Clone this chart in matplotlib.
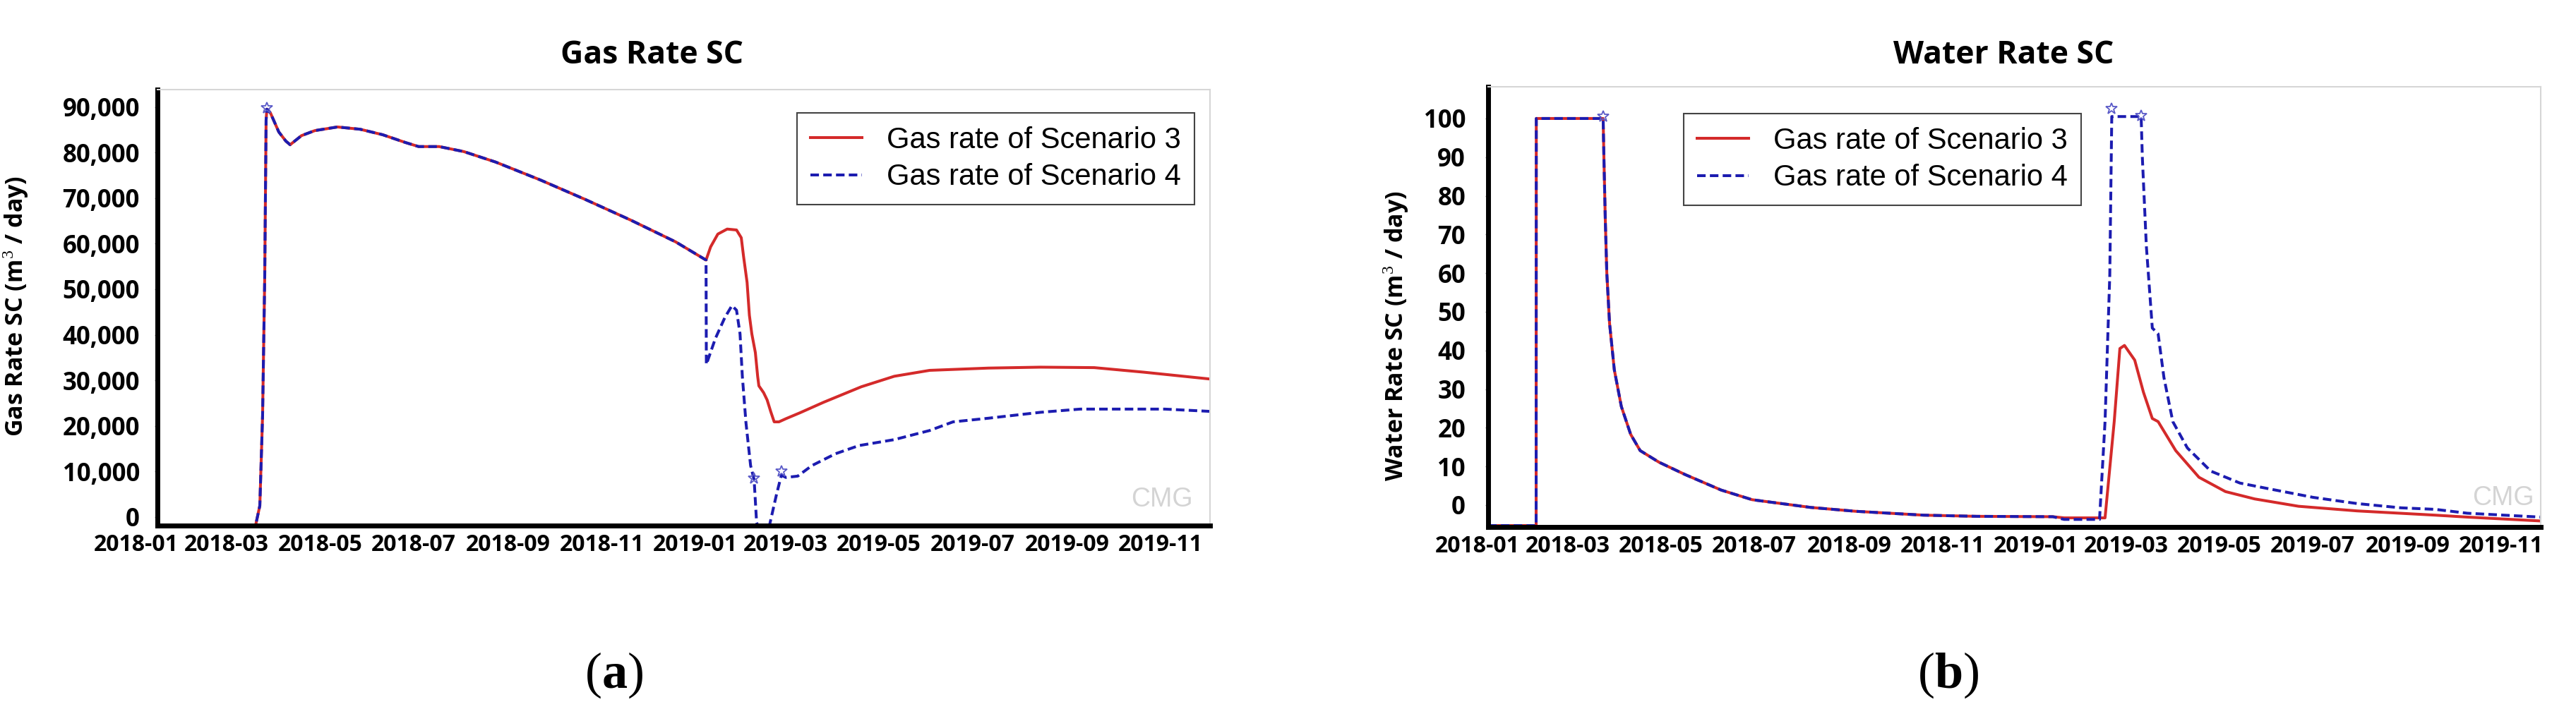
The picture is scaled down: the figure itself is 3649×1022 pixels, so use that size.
import numpy as np
import matplotlib.pyplot as plt
import matplotlib.dates as mdates
from matplotlib.ticker import FuncFormatter
from datetime import datetime

plt.rcParams['mathtext.fontset'] = 'custom'
plt.rcParams['mathtext.rm'] = 'Liberation Serif'
plt.rcParams['mathtext.bf'] = 'Liberation Serif:bold'

# x values are days counted from 2018-01-01
t0 = mdates.date2num(datetime(2018, 1, 1))

# ---- (a) gas rate SC, m3/day ----
# part shared by both scenarios
gas_day_common = [13.8, 77.9, 80.7, 82.5, 83.9, 84.8, 85.3, 87.6, 93.1, 97.7, 100.5,
                  107.9, 116.6, 131.4, 146.2, 160.9, 175.7, 184.4, 197.8, 213.9,
                  234.7, 263.7, 293.2, 322.7, 352.2, 372.1]
gas_common = [-1850, -1850, 2500, 22300, 52600, 87100, 89500, 88700, 84500, 82500, 81700,
              83700, 84800, 85600, 85100, 83900, 82200, 81300, 81300, 80200,
              77900, 74000, 69700, 65200, 60400, 56400]
gas_day_s3 = [375.1, 379.8, 385.9, 392.0, 395.1, 396.6, 398.9, 400.4, 402.0, 404.3,
              405.8, 406.6, 409.7, 412.0, 414.3, 416.6, 419.7, 424.3, 433.5, 448.9,
              473.5, 495.0, 518.1, 533.4, 556.5, 590.6, 625.6, 657.9, 701.2]
gas_s3 = [59300, 62100, 63200, 63000, 61300, 57200, 51500, 44300, 40200, 36100,
          30900, 28800, 27300, 25700, 23200, 20900, 20900, 21600, 22900, 25200,
          28600, 30900, 32200, 32400, 32700, 32900, 32800, 31800, 30300]
gas_day_s4 = [372.3, 378.2, 384.4, 389.0, 392.0, 394.3, 395.8, 398.2, 401.2, 403.5,
              405.1, 405.8, 413.5, 418.2, 421.3, 424.3, 432.0, 441.2, 456.6, 472.0,
              495.0, 518.1, 533.4, 556.5, 590.6, 616.4, 671.7, 701.2]
gas_s4 = [33500, 39200, 43800, 46400, 45400, 40200, 30900, 20600, 11300, 8200,
          -1100, -1850, -1850, 5100, 9200, 8700, 9000, 11300, 13900, 15700,
          17000, 19000, 20900, 21700, 23000, 23700, 23700, 23200]
gas_star_day = [85.3, 403.5, 421.3]
gas_star = [89800, 8500, 10000]

# ---- (b) water rate SC, m3/day ----
wat_day_common = [6.9, 38.3, 38.4, 82.1, 82.6, 83.5, 84.5, 86.3, 89.4, 94.0, 100.1,
                  106.3, 118.6, 135.7, 159.2, 179.5, 217.8, 247.3, 291.6, 326.3, 376.1]
wat_common = [-5.3, -5.3, 100, 100, 90, 74, 60, 47, 35, 25.5, 18.3,
              14.1, 11.1, 7.9, 3.9, 1.4, -0.6, -1.6, -2.6, -2.9, -3.0]
wat_day_s3 = [383.5, 410.2, 416.2, 419.9, 422.9, 429.6, 435.3, 441.1, 444.9, 456.4,
              471.6, 488.9, 508.0, 536.7, 575.0, 626.2, 647.0, 695.0]
wat_s3 = [-3.3, -3.3, 21.6, 40.5, 41.3, 37.5, 29.2, 22.4, 21.6, 14.1,
          7.2, 3.5, 1.6, -0.3, -1.5, -2.6, -3.1, -4.1]
wat_day_s4 = [383.5, 406.6, 410.2, 413.3, 414.6, 433.8, 434.6, 437.2, 441.1, 444.9,
              448.7, 454.5, 464.0, 479.3, 498.4, 517.6, 546.3, 575.0, 603.6, 626.2,
              647.0, 695.0]
wat_s4 = [-3.7, -3.7, 21.6, 59.5, 100.5, 100.5, 89.8, 67, 45.8, 44.3,
          33, 21.6, 14.8, 8.8, 5.7, 4.2, 2.0, 0.4, -0.7, -1.1,
          -2.1, -3.1]
wat_star_day = [82.1, 414.6, 434.0]
wat_star = [100.5, 102.5, 100.7]

labels = ['Gas rate of Scenario 3', 'Gas rate of Scenario 4']
red = '#d42a2a'
blue = '#1c1cb0'

W, H = 3649, 1022
fig = plt.figure(figsize=(W / 100, H / 100), dpi=100)

ax1 = fig.add_axes([193 / W, 1 - 745 / H, (1714 - 193) / W, (745 - 127) / H])
ax2 = fig.add_axes([2093 / W, 1 - 747 / H, (3599 - 2093) / W, (747 - 123) / H])


def draw(ax, dc, vc, d3, v3, d4, v4, sd, sv):
    x3 = t0 + np.array(dc + d3)
    y3 = np.array(vc + v3)
    x4 = t0 + np.array(dc + d4)
    y4 = np.array(vc + v4)
    ax.plot(x3, y3, color=red, lw=2.9, label=labels[0])
    ax.plot(x4, y4, color=blue, lw=2.9, ls=(0, (3.0, 1.5)), label=labels[1])
    ax.plot(t0 + np.array(sd), sv, ls='none', marker='*', ms=12, mfc='none',
            mec='#5a5ac8', mew=1.3)


draw(ax1, gas_day_common, gas_common, gas_day_s3, gas_s3, gas_day_s4, gas_s4,
     gas_star_day, gas_star)
draw(ax2, wat_day_common, wat_common, wat_day_s3, wat_s3, wat_day_s4, wat_s4,
     wat_star_day, wat_star)

ax1.set_xlim(t0, t0 + 701.2)
ax1.set_ylim(-1858, 93800)
ax1.set_yticks(range(0, 90001, 10000))
ax1.yaxis.set_major_formatter(FuncFormatter(lambda v, p: f'{v:,.0f}'))
ax2.set_xlim(t0, t0 + 695)
ax2.set_ylim(-5.66, 108.2)
ax2.set_yticks(range(0, 101, 10))

for ax, x0, xend, ypad in [(ax1, 13.8, 701.2, 15), (ax2, 6.9, 695, 20)]:
    ax.xaxis.set_major_locator(mdates.MonthLocator(bymonth=[1, 3, 5, 7, 9, 11]))
    ax.xaxis.set_major_formatter(mdates.DateFormatter('%Y-%m'))
    ax.spines['left'].set_position(('data', t0 + x0))
    ax.spines['left'].set_linewidth(5)
    ax.spines['bottom'].set_linewidth(5)
    ax.spines['bottom'].set_bounds(t0 + x0, t0 + xend)
    ax.spines['top'].set_bounds(t0 + x0, t0 + xend)
    for s in ['top', 'right']:
        ax.spines[s].set_color('#d6d6d6')
        ax.spines[s].set_linewidth(1.5)
    ax.tick_params(axis='x', length=0, pad=8)
    ax.tick_params(axis='y', length=3, width=1, color='#888888', pad=ypad)
    for lab in ax.get_xticklabels():
        lab.set_fontfamily('Open Sans')
        lab.set_fontweight('bold')
        lab.set_fontsize(23)
    for lab in ax.get_yticklabels():
        lab.set_fontfamily('Open Sans')
        lab.set_fontweight('bold')
        lab.set_fontsize(25)
    ax.patch.set_alpha(0)

ax1.set_ylabel('Gas Rate SC (m$^3$ / day)', fontsize=24.5, fontweight='bold', family='Open Sans')
ax1.yaxis.set_label_coords(-0.0986, 0.503)
ax2.set_ylabel('Water Rate SC (m$^3$ / day)', fontsize=24.5, fontweight='bold', family='Open Sans')
ax2.yaxis.set_label_coords(-0.0631, 0.434)

for ax, anchor in [(ax1, (0.9855, 0.9466)), (ax2, (0.5677, 0.939))]:
    leg = ax.legend(loc='upper right', bbox_to_anchor=anchor, borderaxespad=0,
                    fancybox=False, framealpha=1, edgecolor='#444444',
                    prop={'family': 'Liberation Sans', 'size': 30},
                    handlelength=1.75, handletextpad=0.85, borderpad=0.45,
                    labelspacing=0.3)
    leg.get_frame().set_linewidth(1.5)

# CMG watermarks
ax1.text(0.955, 0.06, 'CMG', transform=ax1.transAxes, ha='center', va='center',
         fontsize=27, color='#d4d4d4', family='Liberation Sans')
ax2.text(0.965, 0.065, 'CMG', transform=ax2.transAxes, ha='center', va='center',
         fontsize=27, color='#d4d4d4', family='Liberation Sans')

fig.text(923 / W, 1 - 78 / H, 'Gas Rate SC', ha='center', va='center',
         fontsize=32, fontweight='bold', family='Open Sans')
fig.text(2838 / W, 1 - 78 / H, 'Water Rate SC', ha='center', va='center',
         fontsize=32, fontweight='bold', family='Open Sans')

fig.text(870 / W, 1 - 957 / H, r'$\mathrm{(}\mathbf{a}\mathrm{)}$', ha='center', va='center',
         fontsize=52)
fig.text(2760 / W, 1 - 957 / H, r'$\mathrm{(}\mathbf{b}\mathrm{)}$', ha='center', va='center',
         fontsize=52)

fig.savefig('out.png', dpi=100, facecolor='white')
